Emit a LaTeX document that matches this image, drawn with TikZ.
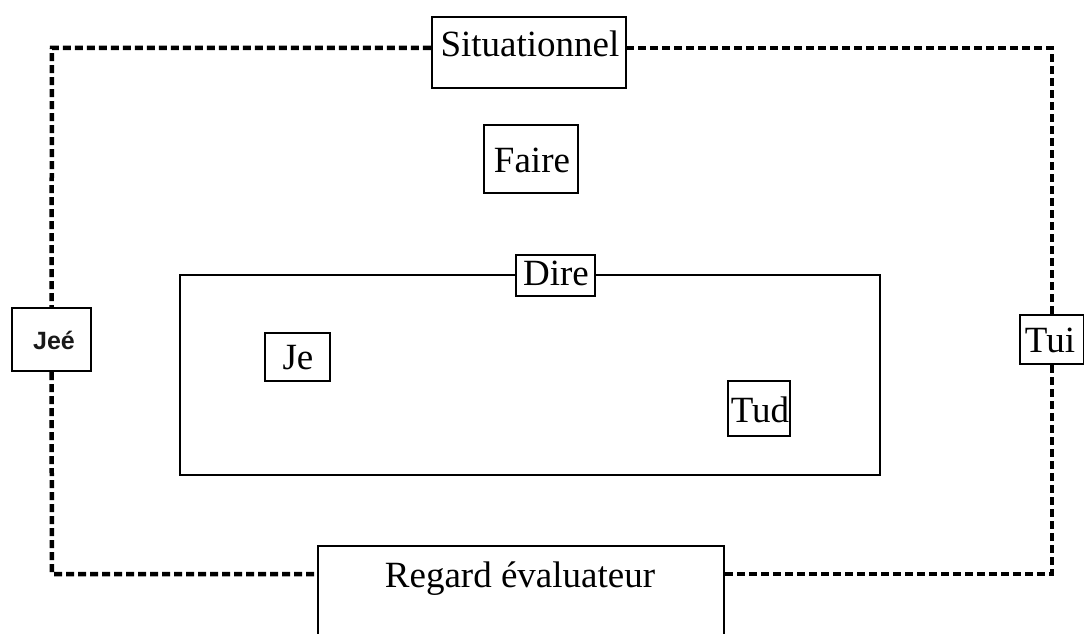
\documentclass[tikz,border=0pt]{standalone}
\usepackage{fontspec}
\setmainfont{Liberation Serif}
\newfontfamily\labelsans{Liberation Sans}
\begin{document}
\begin{tikzpicture}[x=1pt,y=-1pt,
  box/.style={draw=black, line width=2.4pt, rectangle, inner sep=0pt},
  word/.style={inner sep=0pt, font=\fontsize{37}{40}\selectfont, text=black},
  smallword/.style={inner sep=0pt, font=\labelsans\bfseries\fontsize{25}{28}\selectfont, text=black!90},
  dashline/.style={draw=black, line width=4.5pt, dash pattern=on 8pt off 4pt},
  frame/.style={draw=black, line width=2.4pt}]
\useasboundingbox (0,0) rectangle (1084,634);

% corners of the dashed loop and of the inner frame
\coordinate (tl) at (52,48);
\coordinate (tr) at (1052,48);
\coordinate (bl) at (52,574);
\coordinate (br) at (1052,574);
\coordinate (ftl) at (180,275);
\coordinate (ftr) at (880,275);
\coordinate (fbl) at (180,475);
\coordinate (fbr) at (880,475);

% boxes
\node[box, minimum width=194pt, minimum height=71pt] (sit) at (529,52.5) {};
\node[word] (sittext) at (530,44) {Situationnel};
\node[box, minimum width=94pt, minimum height=68pt] (faire) at (531,159) {};
\node[word] (fairetext) at (532,160) {Faire};
\node[box, minimum width=79pt, minimum height=41pt] (dire) at (555.5,275.5) {};
\node[word] (diretext) at (556,273) {Dire};
\node[box, minimum width=65pt, minimum height=48pt] (je) at (297.5,357) {};
\node[word] (jetext) at (298,358) {Je};
\node[box, minimum width=62pt, minimum height=55pt] (tud) at (759,408.5) {};
\node[word] (tudtext) at (760,410) {Tud};
\node[box, minimum width=79pt, minimum height=63pt] (jee) at (51.5,339.5) {};
\node[smallword] (jeetext) at (54,340) {Jeé};
\node[box, minimum width=64pt, minimum height=49pt] (tui) at (1052,339.5) {};
\node[word] (tuitext) at (1050,340) {Tui};
\node[box, minimum width=406pt, minimum height=96pt] (reg) at (521,594) {};
\node[word] (regtext) at (520,579) {Regard évaluateur};

% inner solid frame interrupted by "Dire"
\draw[frame] (dire.west |- ftl) -- (ftl) -- (fbl) -- (fbr) -- (ftr) -- (dire.east |- ftr);

% outer dashed loop
\draw[dashline] (sit.west |- tl) -- (tl) -- (jee.north);
\draw[dashline] (jee.south) -- (bl) -- (reg.west |- bl);
\draw[dashline] (reg.east |- br) -- (br) -- (tui.south);
\draw[dashline] (tui.north) -- (tr) -- (sit.east |- tr);
\end{tikzpicture}
\end{document}
